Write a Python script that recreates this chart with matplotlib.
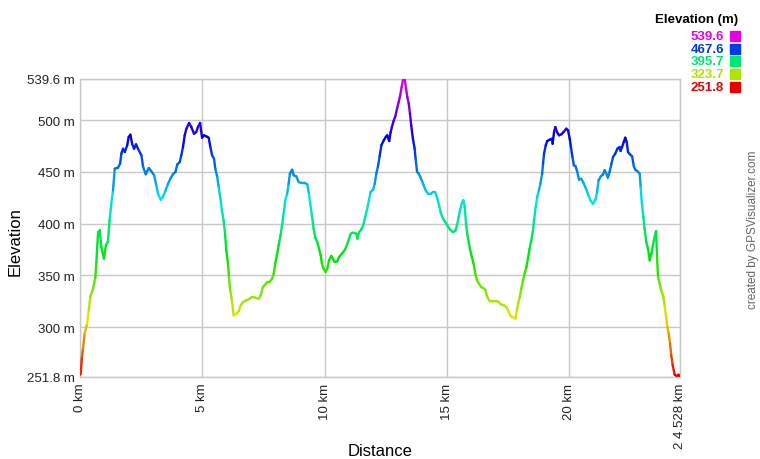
import numpy as np
import matplotlib
matplotlib.use("Agg")
import matplotlib.pyplot as plt
from matplotlib.collections import LineCollection
from matplotlib.colors import hsv_to_rgb

plt.rcParams['font.family'] = ['Liberation Sans', 'DejaVu Sans']

# dados do perfil (km, m)
distance_km = [
    0.00, 0.03, 0.08, 0.12, 0.19, 0.29, 0.36, 0.42, 0.53, 0.63, 0.67, 0.74, 0.81, 0.87, 0.98,
    1.06, 1.14, 1.21, 1.28, 1.35, 1.42, 1.55, 1.64, 1.69, 1.76, 1.83, 1.93, 1.99, 2.06, 2.13,
    2.21, 2.29, 2.37, 2.51, 2.58, 2.69, 2.81, 2.91, 3.03, 3.12, 3.19, 3.30, 3.39, 3.50, 3.60,
    3.71, 3.80, 3.90, 3.98, 4.08, 4.14, 4.21, 4.28, 4.35, 4.46, 4.55, 4.66, 4.75, 4.82, 4.91,
    4.99, 5.07, 5.16, 5.26, 5.33, 5.40, 5.48, 5.53, 5.61, 5.67, 5.74, 5.80, 5.87, 5.93, 5.98,
    6.05, 6.09, 6.14, 6.21, 6.28, 6.39, 6.49, 6.57, 6.66, 6.80, 6.94, 7.03, 7.17, 7.31, 7.39,
    7.48, 7.58, 7.66, 7.75, 7.85, 7.92, 7.98, 8.05, 8.12, 8.20, 8.27, 8.34, 8.39, 8.47, 8.53,
    8.58, 8.67, 8.74, 8.84, 8.94, 9.05, 9.19, 9.29, 9.36, 9.41, 9.48, 9.55, 9.62, 9.70, 9.77,
    9.84, 9.89, 9.96, 10.04, 10.11, 10.18, 10.27, 10.34, 10.41, 10.52, 10.59, 10.71, 10.82, 10.91, 11.00,
    11.07, 11.16, 11.30, 11.34, 11.41, 11.50, 11.58, 11.66, 11.74, 11.81, 11.88, 11.98, 12.05, 12.11, 12.18,
    12.25, 12.32, 12.42, 12.50, 12.56, 12.64, 12.70, 12.75, 12.82, 12.89, 12.96, 13.03, 13.09, 13.15, 13.20,
    13.27, 13.33, 13.38, 13.44, 13.49, 13.54, 13.61, 13.68, 13.72, 13.78, 13.85, 13.91, 13.98, 14.05, 14.13,
    14.23, 14.34, 14.43, 14.52, 14.61, 14.68, 14.75, 14.84, 14.93, 15.04, 15.13, 15.24, 15.34, 15.41, 15.48,
    15.55, 15.62, 15.67, 15.73, 15.78, 15.83, 15.89, 15.94, 16.02, 16.09, 16.16, 16.23, 16.31, 16.40, 16.47,
    16.57, 16.65, 16.75, 16.88, 17.02, 17.12, 17.20, 17.33, 17.43, 17.53, 17.61, 17.70, 17.80, 17.86, 17.91,
    17.98, 18.04, 18.11, 18.18, 18.25, 18.31, 18.38, 18.45, 18.51, 18.56, 18.63, 18.69, 18.76, 18.82, 18.89,
    18.93, 18.97, 19.04, 19.10, 19.20, 19.30, 19.32, 19.38, 19.43, 19.50, 19.58, 19.68, 19.77, 19.88, 19.95,
    20.02, 20.07, 20.13, 20.19, 20.26, 20.33, 20.40, 20.49, 20.60, 20.70, 20.80, 20.88, 20.97, 21.07, 21.14,
    21.20, 21.29, 21.37, 21.45, 21.52, 21.58, 21.65, 21.72, 21.79, 21.88, 21.97, 22.06, 22.10, 22.16, 22.23,
    22.29, 22.35, 22.40, 22.48, 22.57, 22.64, 22.70, 22.78, 22.88, 22.92, 22.97, 23.03, 23.08, 23.15, 23.22,
    23.29, 23.36, 23.42, 23.49, 23.55, 23.59, 23.63, 23.70, 23.76, 23.85, 23.90, 23.96, 24.01, 24.07, 24.12,
    24.17, 24.23, 24.31, 24.39, 24.47, 24.528,
]
elevation_m = [
    254.0, 255.0, 271.1, 278.8, 293.6, 303.3, 316.5, 329.1, 336.8, 348.4, 362.9, 391.8, 393.5, 377.4, 366.1,
    379.3, 382.2, 403.1, 419.2, 432.1, 453.0, 453.9, 457.8, 467.5, 472.3, 469.1, 475.6, 483.6, 485.8, 477.1,
    472.3, 476.5, 472.3, 465.9, 454.6, 447.6, 453.6, 450.7, 446.6, 436.9, 428.8, 423.0, 425.6, 432.1, 438.5,
    444.0, 447.6, 449.8, 457.2, 459.4, 465.9, 473.9, 485.2, 491.6, 497.1, 493.2, 486.8, 488.4, 493.2, 497.1,
    482.9, 485.2, 484.3, 482.9, 473.9, 465.9, 462.6, 453.0, 445.0, 435.3, 424.0, 412.8, 403.1, 390.2, 374.2,
    361.2, 348.4, 335.5, 325.9, 311.4, 312.9, 315.3, 321.0, 324.2, 325.9, 327.4, 329.1, 328.4, 327.4, 330.7,
    338.7, 341.3, 343.5, 343.5, 346.7, 351.6, 361.2, 369.3, 379.0, 388.9, 399.9, 412.8, 422.5, 428.8, 438.5,
    448.1, 452.0, 446.6, 445.6, 440.1, 439.2, 439.2, 437.9, 428.8, 419.2, 408.0, 395.0, 386.3, 382.2, 375.7,
    369.3, 361.2, 356.4, 353.2, 356.4, 364.5, 368.7, 366.1, 362.9, 363.5, 367.7, 370.9, 374.2, 379.0, 385.4,
    390.2, 391.2, 390.2, 385.4, 391.8, 394.1, 398.3, 406.3, 414.3, 422.5, 430.5, 432.7, 438.5, 448.1, 455.0,
    465.0, 475.6, 480.4, 483.6, 485.2, 479.7, 488.4, 493.2, 499.0, 503.6, 510.9, 517.4, 523.9, 531.9, 538.3,
    539.6, 530.2, 522.2, 515.7, 506.1, 494.9, 481.9, 472.3, 462.6, 449.8, 448.1, 445.0, 441.1, 436.9, 432.1,
    428.8, 428.8, 430.5, 430.5, 424.0, 417.6, 410.2, 404.7, 401.5, 397.3, 394.1, 391.8, 392.8, 398.3, 406.3,
    414.3, 420.8, 422.5, 416.0, 399.9, 390.2, 382.2, 375.7, 367.7, 361.2, 351.6, 345.2, 341.9, 338.7, 338.0,
    336.1, 329.1, 324.9, 324.9, 325.2, 324.2, 322.0, 321.0, 319.4, 314.6, 310.4, 309.7, 308.1, 316.2, 322.6,
    329.1, 337.1, 345.2, 351.6, 358.0, 366.1, 375.7, 383.8, 391.8, 403.1, 416.0, 425.6, 432.1, 438.5, 448.1,
    457.8, 467.5, 475.6, 479.7, 481.0, 481.9, 477.1, 488.4, 493.2, 488.4, 485.2, 486.2, 488.4, 491.6, 490.1,
    481.9, 473.9, 464.3, 456.3, 455.3, 449.8, 442.3, 443.3, 438.5, 432.7, 426.3, 421.8, 419.2, 423.0, 430.5,
    441.8, 445.6, 447.2, 451.4, 448.1, 444.3, 449.8, 457.2, 464.3, 467.5, 472.3, 473.9, 470.1, 473.9, 478.8,
    482.9, 478.8, 469.1, 466.9, 464.9, 455.3, 452.0, 450.7, 448.1, 435.3, 419.2, 406.3, 395.0, 382.2, 375.7,
    364.5, 370.9, 379.0, 387.0, 392.8, 367.7, 348.4, 341.9, 335.5, 329.1, 321.0, 309.7, 300.1, 293.6, 284.0,
    272.8, 263.1, 254.0, 252.8, 254.0, 251.8,
]

y_ticks = [251.8, 300, 350, 400, 450, 500, 539.6]
y_labels = ['251.8 m', '300 m', '350 m', '400 m', '450 m', '500 m', '539.6 m']
x_ticks = [0, 5, 10, 15, 20, 24.528]
x_labels = ['0 km', '5 km', '10 km', '15 km', '20 km', '2 4.528 km']
legend_vals = [539.6, 467.6, 395.7, 323.7, 251.8]

e_min, e_max = 251.8, 539.6


def cor(e):
    f = (e - e_min) / (e_max - e_min)
    return hsv_to_rgb([f * 300 / 360, 1.0, 0.9])


x = np.array(distance_km)
y = np.array(elevation_m)

fig = plt.figure(figsize=(7.6, 4.6), dpi=100)
ax = fig.add_axes([80 / 760, 82 / 460, 600 / 760, 298 / 460])

pts = np.column_stack([x, y]).reshape(-1, 1, 2)
segs = np.concatenate([pts[:-1], pts[1:]], axis=1)
cores = [cor((y[i] + y[i + 1]) / 2) for i in range(len(y) - 1)]
lc = LineCollection(segs, colors=cores, linewidths=1.7, capstyle='round', zorder=3)
ax.add_collection(lc)

ax.set_xlim(0, 24.528)
ax.set_ylim(e_min, e_max)
ax.set_yticks(y_ticks)
ax.set_yticklabels(y_labels, fontsize=9.5)
ax.set_xticks(x_ticks)
ax.set_xticklabels(x_labels, fontsize=9.5, rotation=90)
ax.tick_params(length=0, pad=4, colors='#222222')
ax.grid(True, color='#c8c8c8', linewidth=1)
for s in ax.spines.values():
    s.set_color('#c8c8c8')
    s.set_linewidth(1)

fig.text(380 / 760, 1 - 452 / 460, 'Distance', fontsize=12, ha='center', va='center')
fig.text(15 / 760, 1 - 242 / 460, 'Elevation', fontsize=12, rotation=90,
         ha='center', va='center')

# legenda
fig.text(738 / 760, 1 - 20 / 460, 'Elevation (m)', fontsize=9.5, fontweight='bold',
         ha='right', va='center')
for i, v in enumerate(legend_vals):
    yy = 1 - (37 + i * 12.7) / 460
    fig.text(724 / 760, yy, '%.1f' % v, fontsize=9.5, fontweight='bold',
             color=cor(v), ha='right', va='center')
    fig.patches.append(plt.Rectangle((730 / 760, yy - 5 / 460), 10 / 760, 10 / 460,
                                     transform=fig.transFigure, color=cor(v), figure=fig))

fig.text(753 / 760, 1 - 230 / 460, 'created by GPSVisualizer.com', fontsize=8.5,
         color='#666666', rotation=90, ha='center', va='center')

fig.savefig('out.png', dpi=100)
